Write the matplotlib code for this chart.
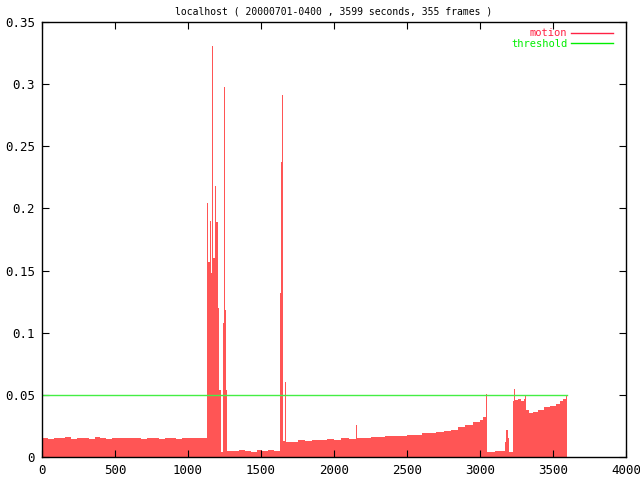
import matplotlib
matplotlib.use("Agg")
import matplotlib.pyplot as plt
from matplotlib.lines import Line2D

# motion per frame (step start time in seconds, value)
seconds = [0, 40, 80, 120, 160, 200, 240, 280, 320, 360, 400, 440, 480, 520, 560,
           600, 640, 680, 720, 760, 800, 840, 880, 920, 960, 1000, 1040, 1080, 1120,
           1128, 1135, 1151, 1155, 1165, 1171, 1185, 1192, 1205, 1215, 1224, 1242, 1249,
           1253, 1260, 1267, 1310, 1350, 1390, 1430, 1470, 1510, 1550, 1590,
           1630, 1637, 1644, 1648, 1653, 1667, 1671, 1700, 1750, 1800, 1850, 1900, 1950,
           2000, 2050, 2100, 2150, 2160, 2200, 2250, 2300, 2350, 2400, 2450, 2500, 2550,
           2600, 2650, 2700, 2750, 2800, 2850, 2900, 2950, 3000, 3020, 3039, 3046, 3100,
           3171, 3176, 3190, 3200, 3224, 3231, 3238, 3260, 3280, 3300, 3310, 3316, 3336,
           3360, 3400, 3440, 3480, 3520, 3550, 3570, 3590, 3599]
motion = [0.015, 0.0145, 0.0155, 0.015, 0.016, 0.0148, 0.0152, 0.015, 0.0145, 0.0158,
          0.015, 0.0147, 0.0153, 0.015, 0.0149, 0.0156, 0.015, 0.0146, 0.0152, 0.0151,
          0.0148, 0.0155, 0.015, 0.0147, 0.0153, 0.015, 0.0149, 0.0152, 0.015,
          0.204, 0.157, 0.19, 0.148, 0.331, 0.16, 0.218, 0.189, 0.12, 0.054, 0.004, 0.108,
          0.298, 0.118, 0.054, 0.005, 0.0045, 0.006, 0.005, 0.0042, 0.0055, 0.005, 0.006,
          0.0048, 0.132, 0.237, 0.291, 0.086, 0.013, 0.06, 0.012, 0.012, 0.014, 0.013,
          0.0135, 0.014, 0.0145, 0.014, 0.015, 0.0148, 0.026, 0.015, 0.0155, 0.016,
          0.0158, 0.0165, 0.017, 0.0172, 0.018, 0.0178, 0.019, 0.0195, 0.02, 0.021,
          0.022, 0.024, 0.026, 0.028, 0.030, 0.032, 0.051, 0.004, 0.0045, 0.012, 0.022,
          0.015, 0.004, 0.045, 0.055, 0.046, 0.047, 0.045, 0.047, 0.05, 0.038, 0.035,
          0.036, 0.038, 0.04, 0.041, 0.043, 0.045, 0.047, 0.05, 0.05]
threshold = 0.05
title = "localhost ( 20000701-0400 , 3599 seconds, 355 frames )"

red_fill = "#ff5555"
red_line = "#ff2244"
green = "#44ee44"
mono = "DejaVu Sans Mono"

fig = plt.figure(figsize=(6.4, 4.8), dpi=100)
ax = fig.add_axes([42 / 640, 1 - 457 / 480, 584 / 640, 435 / 480])

ax.fill_between(seconds, motion, 0, step="post", color=red_fill, linewidth=0)
ax.plot([0, seconds[-1]], [threshold, threshold], color=green, linewidth=1)

ax.set_xlim(0, 4000)
ax.set_ylim(0, 0.35)
ax.set_xticks(range(0, 4001, 500))
ax.set_yticks([0, 0.05, 0.1, 0.15, 0.2, 0.25, 0.3, 0.35])
ax.set_yticklabels(["0", "0.05", "0.1", "0.15", "0.2", "0.25", "0.3", "0.35"])
ax.tick_params(direction="in", length=5, top=True, right=True, labelsize=9, pad=5)
for lab in ax.get_xticklabels() + ax.get_yticklabels():
    lab.set_family(mono)
for s in ax.spines.values():
    s.set_linewidth(1)

handles = [Line2D([], [], color=red_line, lw=1), Line2D([], [], color="#00ee00", lw=1)]
leg = ax.legend(handles, ["motion", "threshold"], loc="upper right", frameon=False,
                bbox_to_anchor=(1 - 5 / 584, 1 + 2 / 435),
                markerfirst=False, handlelength=4.0, handletextpad=0.35,
                labelspacing=0.05, borderaxespad=0.4,
                prop={"family": mono, "size": 7.5})
leg.get_texts()[0].set_color(red_line)
leg.get_texts()[1].set_color("#00ee00")

fig.text(42 / 640 + 292 / 640, 1 - 11 / 480, title, ha="center", va="center",
         family=mono, fontsize=7)

fig.savefig("out.png")
